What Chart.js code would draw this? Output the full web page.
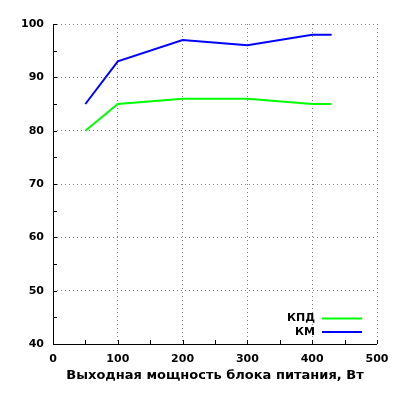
<!DOCTYPE html>
<html>
<head>
<meta charset="utf-8">
<script src="https://cdn.jsdelivr.net/npm/chart.js@4/dist/chart.umd.min.js"></script>
<style>
  html, body { margin: 0; padding: 0; background: #fff; }
  #wrap { width: 400px; height: 400px; }
</style>
</head>
<body>
<div id="wrap"><canvas id="chart" width="400" height="400"></canvas></div>
<script>
const powerW = [50, 100, 200, 300, 400, 430];
const kpd = [80, 85, 86, 86, 85, 85];
const km = [85, 93, 97, 96, 98, 98];
const seriesNames = ['КПД', 'КМ'];
const seriesColors = ['#00ff00', '#0000ff'];
const xTitle = 'Выходная мощность блока питания, Вт';

const FONT = "'DejaVu Sans', sans-serif";

// small inward ticks on the axes + legend drawn like the original
const decor = {
  id: 'decor',
  afterDraw(chart) {
    const { ctx, chartArea: a, scales: { x, y } } = chart;
    ctx.save();
    ctx.strokeStyle = '#000';
    ctx.lineWidth = 1;
    ctx.setLineDash([]);
    ctx.beginPath();
    ctx.moveTo(a.left + 0.5, a.top);
    ctx.lineTo(a.left + 0.5, a.bottom + 0.5);
    ctx.lineTo(a.right, a.bottom + 0.5);
    for (let v = 0; v <= 500; v += 50) {
      const px = Math.round(x.getPixelForValue(v)) + 0.5;
      ctx.moveTo(px, a.bottom);
      ctx.lineTo(px, a.bottom - 4);
    }
    for (let v = 40; v <= 100; v += 5) {
      const py = Math.round(y.getPixelForValue(v)) + 0.5;
      ctx.moveTo(a.left, py);
      ctx.lineTo(a.left + 4, py);
    }
    ctx.stroke();

    // legend
    ctx.font = 'bold 11px ' + FONT;
    ctx.textAlign = 'right';
    ctx.textBaseline = 'middle';
    chart.data.datasets.forEach((ds, i) => {
      const ly = 318.5 + i * 13.5;
      ctx.fillStyle = '#000';
      ctx.fillText(ds.label, 315, ly);
      ctx.strokeStyle = ds.borderColor;
      ctx.lineWidth = 2;
      ctx.beginPath();
      ctx.moveTo(322, ly);
      ctx.lineTo(362, ly);
      ctx.stroke();
    });
    ctx.restore();
  }
};

new Chart(document.getElementById('chart'), {
  type: 'line',
  data: {
    labels: powerW,
    datasets: [
      {
        label: seriesNames[0],
        data: powerW.map((p, i) => ({ x: p, y: kpd[i] })),
        borderColor: seriesColors[0],
        borderWidth: 2,
        pointRadius: 0,
        tension: 0
      },
      {
        label: seriesNames[1],
        data: powerW.map((p, i) => ({ x: p, y: km[i] })),
        borderColor: seriesColors[1],
        borderWidth: 2,
        pointRadius: 0,
        tension: 0
      }
    ]
  },
  options: {
    responsive: false,
    animation: false,
    layout: { padding: { top: 24, right: 23, bottom: 17, left: 0 } },
    plugins: { legend: { display: false }, tooltip: { enabled: false } },
    scales: {
      x: {
        type: 'linear',
        min: 0,
        max: 500,
        ticks: { stepSize: 100, color: '#000', font: { family: FONT, size: 11, weight: 'bold' }, padding: 9 },
        grid: {
          color: (c) => c.tick.value === 0 ? 'transparent' : '#808080',
          drawTicks: false
        },
        border: { display: false, dash: [1, 3] },
        title: { display: true, text: xTitle, color: '#000', font: { family: FONT, size: 13, weight: 'bold' }, padding: { top: 3, bottom: 0 } },
        afterFit(s) { s.height = 56 - 17; }
      },
      y: {
        min: 40,
        max: 100,
        ticks: { stepSize: 10, color: '#000', font: { family: FONT, size: 11, weight: 'bold' }, padding: 9 },
        grid: {
          color: (c) => c.tick.value === 40 ? 'transparent' : '#808080',
          drawTicks: false
        },
        border: { display: false, dash: [1, 3] },
        afterFit(s) { s.width = 53; }
      }
    }
  },
  plugins: [decor]
});
</script>
</body>
</html>
